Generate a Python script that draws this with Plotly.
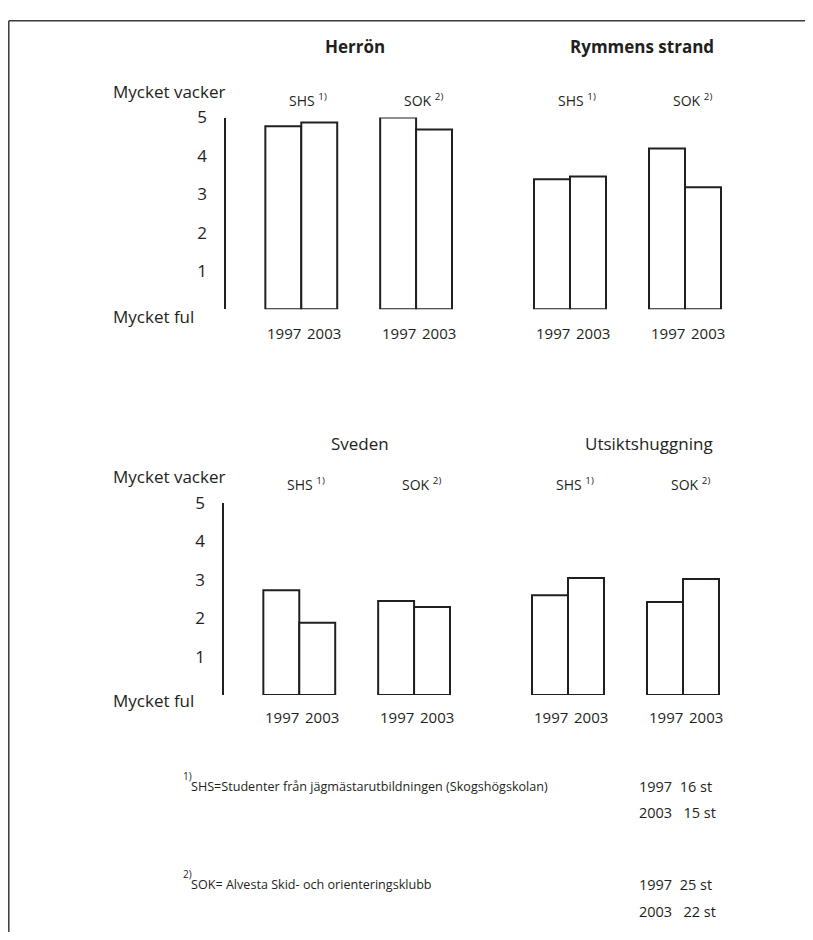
import plotly.graph_objects as go

# ---------------- data ----------------
panel_titles = ["Herrön", "Rymmens strand", "Sveden", "Utsiktshuggning"]
title_bold = [True, True, False, False]
groups = ["SHS", "SOK"]
group_notes = ["1)", "2)"]
years = ["1997", "2003"]
vals_1997 = [[4.77, 5.00], [3.39, 4.19], [2.73, 2.45], [2.60, 2.42]]
vals_2003 = [[4.87, 4.69], [3.46, 3.18], [1.88, 2.29], [3.05, 3.02]]
y_ticks = [1, 2, 3, 4, 5]
y_top_label = "Mycket vacker"
y_bottom_label = "Mycket ful"
footnote_marks = ["1)", "2)"]
footnotes = ["SHS=Studenter från jägmästarutbildningen (Skogshögskolan)",
             "SOK= Alvesta Skid- och orienteringsklubb"]
counts = [["1997  16 st", "2003   15 st"], ["1997  25 st", "2003   22 st"]]

# ---------------- layout helpers (pixels, in reference-image coordinates) ----------------
PAGE_W, PAGE_H = 813, 940
W, H = PAGE_W - 16, PAGE_H - 16     # figure fits inside the window (body margin)
X0, Y0, YS = 8.5, 19.4, 0.988       # page placement of the figure
FONT = "Open Sans"
INK = "#231f20"


def px_x(x):
    return (x - X0) / W


def px_y(y):
    return 1 - ((y - Y0) / YS) / H


x_dom = [(226, 474), (494.6, 743), (224, 472), (492.6, 741)]
y_dom = [(309, 117), (309, 117), (695, 503), (695, 503)]
title_pos = [(355, 46), (642, 46), (360, 443), (649, 443)]
group_label_y = [99, 99, 484, 484]
year_label_y = [333, 333, 717, 717]
x_range = [-0.66, 1.5]

fig = go.Figure()
annotations = []

for i in range(4):
    ax = "" if i == 0 else str(i + 1)
    xa, ya = "x" + ax, "y" + ax
    for yr, vals in zip(years, [vals_1997, vals_2003]):
        fig.add_trace(go.Bar(
            x=groups, y=vals[i], name=yr, xaxis=xa, yaxis=ya,
            marker=dict(color="white", line=dict(color=INK, width=2)),
            showlegend=False, hoverinfo="skip"))
    left = i in (0, 2)
    fig.layout["xaxis" + ax] = dict(
        domain=[px_x(x_dom[i][0]), px_x(x_dom[i][1])], range=x_range,
        showticklabels=False, showline=False, showgrid=False, zeroline=False,
        anchor=ya, fixedrange=True)
    fig.layout["yaxis" + ax] = dict(
        domain=[px_y(y_dom[i][0]), px_y(y_dom[i][1])], range=[0, 5],
        showline=left, linecolor=INK, linewidth=2,
        showticklabels=left, tickvals=y_ticks, ticks="",
        ticklabelstandoff=13,
        tickfont=dict(family=FONT, size=17, color=INK),
        showgrid=False, zeroline=False, anchor=xa, fixedrange=True)

    t = panel_titles[i]
    annotations.append(dict(
        x=px_x(title_pos[i][0]), y=px_y(title_pos[i][1]), xref="paper", yref="paper",
        text=f"<b>{t}</b>" if title_bold[i] else t, showarrow=False,
        xanchor="center", yanchor="middle",
        font=dict(family=FONT, size=17, color=INK)))
    for g, note in zip(groups, group_notes):
        annotations.append(dict(
            x=g, y=px_y(group_label_y[i]), xref=xa, yref="paper",
            text=f"{g} <sup>{note}</sup>", showarrow=False, xshift=7,
            xanchor="center", yanchor="middle",
            font=dict(family=FONT, size=14, color=INK)))
        for yr, sh in zip(years, [-17, 23]):
            annotations.append(dict(
                x=g, y=px_y(year_label_y[i]), xref=xa, yref="paper",
                text=yr, showarrow=False, xshift=sh,
                xanchor="center", yanchor="middle",
                font=dict(family=FONT, size=15, color=INK)))

for ytop, ybot in [(91, 316), (476, 701)]:
    annotations.append(dict(x=px_x(111), y=px_y(ytop), xref="paper", yref="paper",
                            text=y_top_label, showarrow=False, xanchor="left",
                            yanchor="middle", font=dict(family=FONT, size=17, color=INK)))
    annotations.append(dict(x=px_x(111), y=px_y(ybot), xref="paper", yref="paper",
                            text=y_bottom_label, showarrow=False, xanchor="left",
                            yanchor="middle", font=dict(family=FONT, size=17, color=INK)))

foot_y = [(787, 813), (885, 912)]
for k in range(2):
    annotations.append(dict(x=px_x(181), y=px_y(foot_y[k][0] - 11), xref="paper", yref="paper",
                            text=footnote_marks[k], showarrow=False, xanchor="left",
                            yanchor="middle", font=dict(family=FONT, size=10, color=INK)))
    annotations.append(dict(x=px_x(189), y=px_y(foot_y[k][0]), xref="paper", yref="paper",
                            text=footnotes[k], showarrow=False, xanchor="left",
                            yanchor="middle", font=dict(family=FONT, size=12.6, color=INK)))
    for j in range(2):
        annotations.append(dict(x=px_x(637), y=px_y(foot_y[k][j]), xref="paper", yref="paper",
                                text=counts[k][j].replace(" ", "\u00a0"), showarrow=False,
                                xanchor="left", yanchor="middle",
                                font=dict(family=FONT, size=14.5, color=INK)))

# page frame (top and left rule), kept just inside the figure area
fx = max(px_x(4), 0.8 / W)
fy = min(px_y(6), 1 - 0.8 / H)
fig.update_layout(
    width=W, height=H, autosize=False,
    margin=dict(l=0, r=0, t=0, b=0),
    paper_bgcolor="white", plot_bgcolor="white",
    barmode="group", bargap=0.374, bargroupgap=0,
    annotations=annotations,
    shapes=[
        dict(type="line", xref="paper", yref="paper", x0=fx, x1=1, y0=fy, y1=fy,
             line=dict(color="#3a3a3a", width=1.5)),
        dict(type="line", xref="paper", yref="paper", x0=fx, x1=fx, y0=fy, y1=0,
             line=dict(color="#3a3a3a", width=1.5)),
    ],
)

fig.write_html("out.html")
